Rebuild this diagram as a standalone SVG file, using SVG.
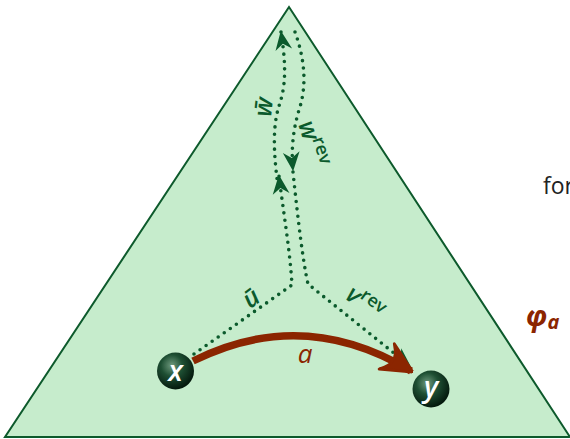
<svg xmlns="http://www.w3.org/2000/svg" width="570" height="439" viewBox="0 0 570 439">
<style>
.dot{fill:none;stroke:#0b5a2c;stroke-width:3.6;stroke-linecap:round;stroke-dasharray:0 7.4}
.lbl{font-family:"Open Sans","DejaVu Sans",sans-serif;font-style:italic;font-weight:600;fill:#0b5a2c;font-size:25px}
.sup{font-size:18px;font-style:normal;font-weight:600}
.nl{font-family:"Open Sans","DejaVu Sans",sans-serif;font-style:italic;font-weight:600;fill:#fff;font-size:29px;text-anchor:middle}
</style>
<defs>
<marker id="ga" markerUnits="userSpaceOnUse" markerWidth="24" markerHeight="24" viewBox="-18 -9 20 18" refX="0" refY="0" orient="auto">
<path d="M1,0 L-15,-7 L-10,0 L-15,7 Z" fill="#0b5a2c"/>
</marker>
<marker id="ra" markerUnits="userSpaceOnUse" markerWidth="34" markerHeight="34" viewBox="-28 -15 30 30" refX="0" refY="0" orient="auto">
<path d="M2,0 L-25,-13 Q-17,-4 -19,0 Q-17,4 -25,13 Z" fill="#8b2500" stroke="#8b2500" stroke-width="2.5" stroke-linejoin="round"/>
</marker>
<radialGradient id="ball" cx="0.4" cy="0.35" r="0.65">
<stop offset="0" stop-color="#6f9a7e"/>
<stop offset="0.45" stop-color="#1e4f33"/>
<stop offset="1" stop-color="#04190d"/>
</radialGradient>
</defs>
<polygon points="289,7 5,437 570,437" fill="#c6eccc" stroke="#0d5a2c" stroke-width="2"/>
<text x="543" y="194" font-family="'Open Sans','DejaVu Sans',sans-serif" font-size="23" fill="#222">for</text>
<text x="526" y="326" font-family="'Open Sans','DejaVu Sans',sans-serif" font-size="28" font-weight="bold" font-style="italic" fill="#8b2500">φ<tspan font-size="20" dy="3">a</tspan></text>
<g id="connectors">
<path class="dot" d="M194,354 L292,285 C290,250 283,210 279,176" marker-end="url(#ga)"/>
<path class="dot" d="M278,186 C273,150 273,125 279,106 C285,88 287,70 281,32" marker-end="url(#ga)"/>
<path class="dot" d="M295,32 C305,60 307,86 299,110 C293,130 291,150 293,170" marker-end="url(#ga)"/>
<path class="dot" d="M293,172 C298,220 303,262 308,284 L410,366" marker-end="url(#ga)"/>
<path d="M193,361 Q303,306 411,371" fill="none" stroke="#8b2500" stroke-width="7.5" marker-end="url(#ra)"/>
<text class="lbl" transform="translate(272,108) rotate(-84)" text-anchor="middle">w̄</text>
<text class="lbl" transform="translate(298,124) rotate(72)">w<tspan class="sup" dy="-9">rev</tspan></text>
<text class="lbl" transform="translate(256,305) rotate(-36)" text-anchor="middle">ū</text>
<text class="lbl" transform="translate(344,298) rotate(36)">v<tspan class="sup" dy="-9">rev</tspan></text>
<text x="305" y="363" font-family="'Open Sans','DejaVu Sans',sans-serif" font-style="italic" font-size="26" fill="#8b2500" text-anchor="middle">a</text>
</g>
<g id="node-x">
<circle cx="175.5" cy="371" r="18.5" fill="url(#ball)"/>
<text class="nl" x="175.5" y="381">x</text>
</g>
<g id="node-y">
<circle cx="431" cy="389" r="18.5" fill="url(#ball)"/>
<text class="nl" x="431" y="397">y</text>
</g>
</svg>
